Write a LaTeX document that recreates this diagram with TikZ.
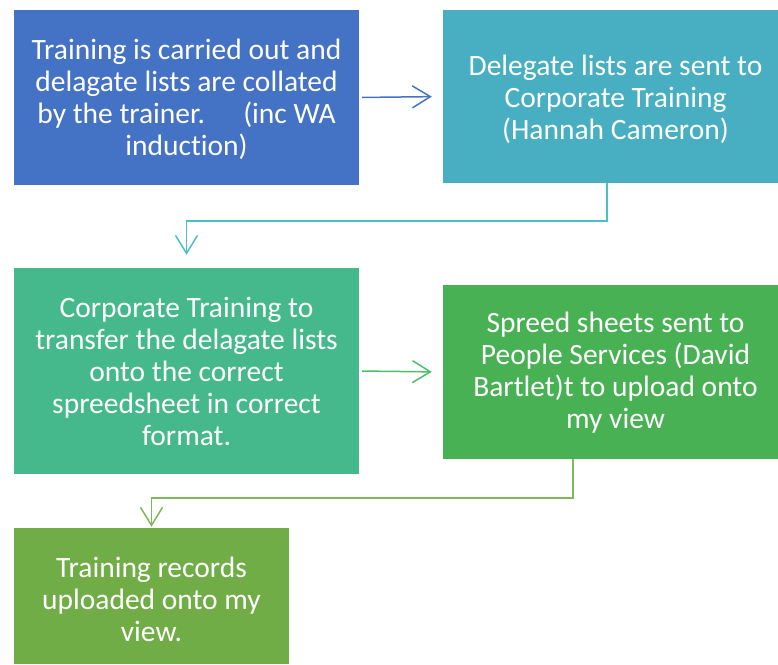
\documentclass[tikz,border=0pt]{standalone}
\usepackage{fontspec}
\setmainfont{Carlito}[Ligatures=NoCommon]
\usetikzlibrary{arrows.meta}

\definecolor{boxblue}{HTML}{4472C4}
\definecolor{boxteal}{HTML}{47AFC1}
\definecolor{boxjade}{HTML}{45B98C}
\definecolor{boxgreen}{HTML}{48B153}
\definecolor{boxlime}{HTML}{70AD47}
\definecolor{lineteal}{HTML}{4CC1C0}
\definecolor{linegreen}{HTML}{4DBF6A}
\definecolor{linelime}{HTML}{7DB85A}

\begin{document}
\begin{tikzpicture}[x=1pt,y=1pt,
        stepbox/.style={rectangle,inner sep=0pt},
        steptext/.style={inner sep=0pt,text=white,align=center,
                font=\fontsize{29.5}{32}\selectfont},
        flow/.style={line width=1.5pt,-{Straight Barb[length=18pt,width=22pt,line width=1.5pt]}}]
        \useasboundingbox (0,0) rectangle (778,-664);
        \node[stepbox,fill=boxblue,minimum width=345,minimum height=175] (b1) at (186.5,-97.5) {};
        \node[stepbox,fill=boxteal,minimum width=335,minimum height=173] (b2) at (610.5,-96.5) {};
        \node[stepbox,fill=boxjade,minimum width=345,minimum height=206] (b3) at (186.5,-371) {};
        \node[stepbox,fill=boxgreen,minimum width=335,minimum height=174] (b4) at (610.5,-372) {};
        \node[stepbox,fill=boxlime,minimum width=275,minimum height=136] (b5) at (151.5,-596) {};
        % texts
        \node[steptext] (t1) at ([yshift=-2pt]b1.center)
                {Training is carried out and\\delagate lists are collated\\by the trainer.\hspace{1.3em}(inc WA\\induction)};
        \node[steptext] (t2) at ([shift={(5pt,-3pt)}]b2.center)
                {Delegate lists are sent to\\Corporate Training\\(Hannah Cameron)};
        \node[steptext] (t3) at (b3.center)
                {Corporate Training to\\transfer the delagate lists\\onto the correct\\spreedsheet in correct\\format.};
        \node[steptext] (t4) at ([shift={(5pt,-1pt)}]b4.center)
                {Spreed sheets sent to\\People Services (David\\Bartlet)t to upload onto\\my view};
        \node[steptext] (t5) at ([yshift=-3pt]b5.center)
                {Training records\\uploaded onto my\\view.};
        % connectors
        \draw[flow,draw=boxblue,shorten <=3pt,shorten >=11pt] (b1.east) -- (b2.west);
        \draw[flow,draw=lineteal,shorten >=13pt] ([xshift=-3.5pt]b2.south) -- ++(0,-38) -| (b3.north);
        \draw[flow,draw=linegreen,shorten <=3pt,shorten >=11pt] (b3.east) -- (b4.west);
        \draw[flow,draw=linelime,shorten >=1pt] ([xshift=-37.5pt]b4.south) -- ++(0,-39) -| (b5.north);
\end{tikzpicture}
\end{document}
